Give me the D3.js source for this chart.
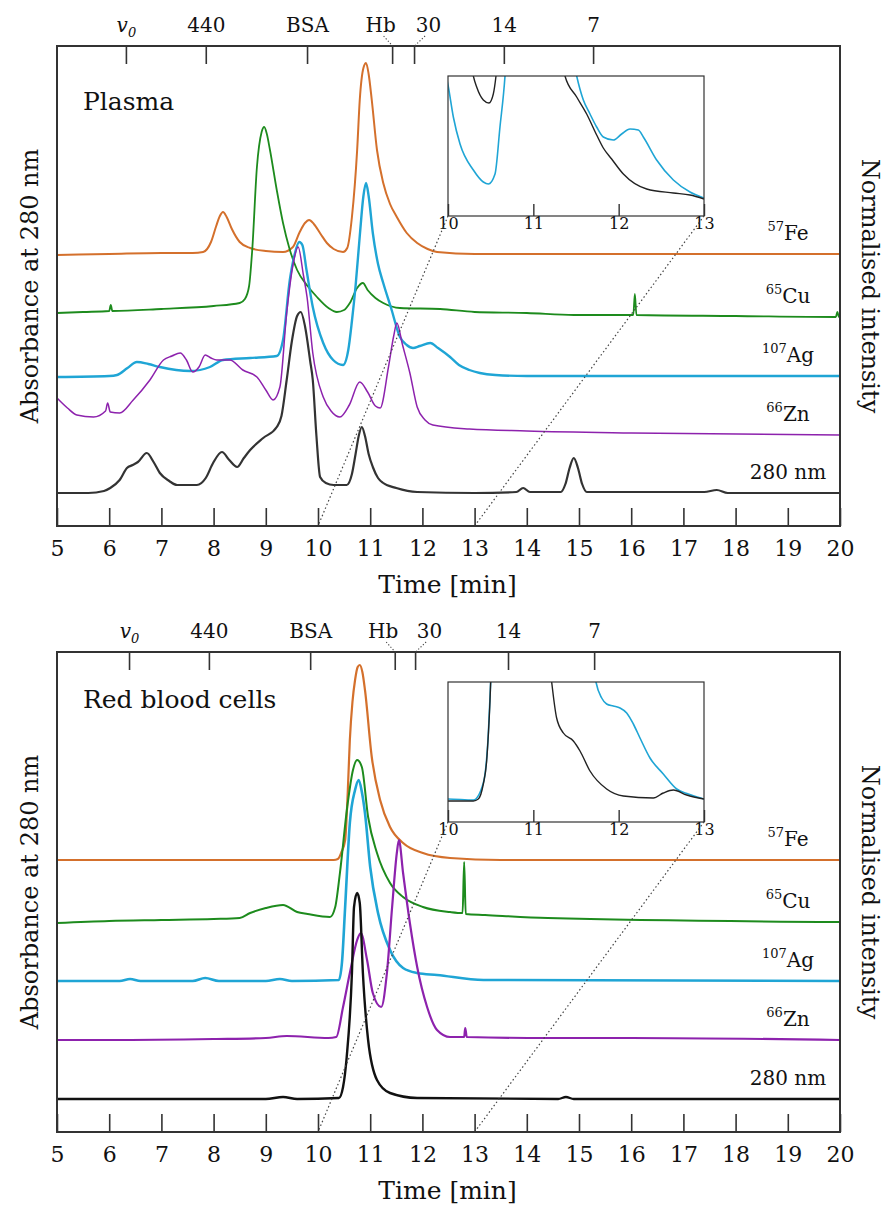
<!DOCTYPE html>
<html>
<head>
<meta charset="utf-8">
<script src="https://d3js.org/d3.v7.min.js"></script>
<style>
  body { margin: 0; background: #fff; }
  svg text { font-family: "DejaVu Serif", serif; fill: #111; }
</style>
</head>
<body>
<svg id="chart" width="888" height="1207"></svg>
<script>
// ---- data: [time (min), stacked intensity] ----
var timeTicks = d3.range(5, 21);
var insetTicks = [10, 11, 12, 13];
var markerNames = ["v0", "440", "BSA", "Hb", "30", "14", "7"];
var plasmaMarkers = [6.32, 7.85, 9.79, 11.42, 11.84, 13.56, 15.27];
var rbcMarkers = [6.38, 7.91, 9.85, 11.47, 11.86, 13.64, 15.29];
var traceNames = [["57", "Fe"], ["65", "Cu"], ["107", "Ag"], ["66", "Zn"], ["", "280 nm"]];
var traceColors = ["#d4702c", "#1d8b1d", "#1fa5d5", "#8d22ad", "#333333"];

var plasmaFe = [[5,271],[6,272],[7,273],[7.6,273],[7.8,274],[7.95,284],[8.05,300],[8.12,310],[8.18,314],[8.25,309],[8.35,297],[8.5,284],[8.7,278],[9.0,275],[9.33,274],[9.52,279],[9.65,294],[9.75,303],[9.83,306],[9.92,302],[10.05,292],[10.17,283],[10.3,277],[10.48,274],[10.56,278],[10.65,309],[10.75,376],[10.8,426],[10.87,458],[10.92,463],[10.97,452],[11.03,426],[11.13,376],[11.25,343],[11.38,322],[11.51,309],[11.7,293],[11.9,283],[12.1,277],[12.28,274],[13,272],[20,272]];
var plasmaCu = [[5,213],[5.5,214],[6.0,215],[6.03,221],[6.06,215],[7.0,217],[8.0,220],[8.5,223],[8.6,227],[8.68,240],[8.74,276],[8.83,359],[8.92,394],[8.97,399],[9.02,392],[9.08,376],[9.21,336],[9.33,303],[9.45,278],[9.6,256],[9.8,240],[9.98,229],[10.2,218],[10.36,214],[10.5,216],[10.61,223],[10.75,238],[10.86,243],[10.95,236],[11.1,228],[11.25,223],[11.57,218],[12.34,217],[13,214],[14,213],[14.9,211],[16.04,211],[16.07,232],[16.1,211],[18,210],[19.92,209],[19.95,214],[19.98,209],[20,209]];
var plasmaAg = [[5,149],[6.0,150],[6.15,151],[6.35,158],[6.53,164],[6.75,162],[6.97,159],[7.55,155],[7.93,159],[8.18,166],[8.7,168],[9.21,170],[9.33,186],[9.46,246],[9.55,271],[9.64,284],[9.7,281],[9.78,256],[9.9,219],[10.1,183],[10.29,166],[10.48,161],[10.58,176],[10.65,205],[10.72,240],[10.8,290],[10.87,330],[10.92,343],[10.97,330],[11.05,293],[11.15,262],[11.25,243],[11.4,218],[11.57,189],[11.7,181],[11.82,178],[11.95,180],[12.15,183],[12.3,178],[12.53,169],[12.7,161],[12.9,156],[13.1,153],[13.4,151],[14,150],[20,150]];
var plasmaZn = [[5,128],[5.2,118],[5.38,111],[5.7,109],[5.93,115],[5.97,123],[6.02,114],[6.2,113],[6.46,126],[6.78,146],[7.04,166],[7.2,170],[7.36,173],[7.48,166],[7.6,154],[7.72,159],[7.84,171],[7.95,168],[8.06,166],[8.31,166],[8.56,156],[8.83,149],[9.0,136],[9.14,126],[9.27,139],[9.4,213],[9.52,261],[9.62,279],[9.72,251],[9.79,229],[9.9,173],[10.1,129],[10.25,115],[10.42,109],[10.6,121],[10.8,144],[10.95,134],[11.1,120],[11.19,118],[11.35,159],[11.45,190],[11.51,203],[11.62,181],[11.76,153],[11.9,119],[12.05,106],[12.2,101],[12.9,97],[14,95],[16,93],[20,91]];
var plasma280 = [[5,33],[5.6,33],[5.9,35],[6.02,38],[6.2,46],[6.34,58],[6.45,61],[6.55,64],[6.72,73],[6.85,64],[6.97,53],[7.15,45],[7.3,41],[7.68,41],[7.85,48],[7.99,63],[8.16,74],[8.3,66],[8.45,59],[8.58,68],[8.7,76],[8.95,88],[9.21,99],[9.3,110],[9.4,146],[9.5,185],[9.6,210],[9.67,214],[9.75,200],[9.85,165],[9.9,146],[9.97,90],[10.04,49],[10.15,43],[10.3,41],[10.55,41],[10.65,52],[10.72,72],[10.78,90],[10.84,99],[10.9,90],[10.97,72],[11.05,59],[11.15,48],[11.25,43],[11.5,38],[11.9,34],[13,33],[13.8,34],[13.93,38],[14.06,34],[14.65,34],[14.74,42],[14.82,58],[14.9,68],[14.98,58],[15.06,42],[15.15,34],[17.4,34],[17.64,36],[17.85,33],[20,33]];
var plasmaInsetAg = [[9.95,150],[10,131],[10.0625,99],[10.141,72],[10.297,46],[10.414,34],[10.473,32],[10.551,42],[10.609,89],[10.668,140],[10.72,220],[10.92,700],[11.35,220],[11.508,140],[11.586,116],[11.664,102],[11.742,89],[11.82,79],[11.937,76],[12.035,82],[12.133,87],[12.23,86],[12.289,79],[12.445,56],[12.641,36],[12.836,24],[13,18]];
var plasmaInset280 = [[10.2,200],[10.297,140],[10.336,129],[10.414,116],[10.48,113],[10.531,122],[10.5625,140],[10.62,200],[10.84,700],[11.25,200],[11.371,140],[11.508,119],[11.625,102],[11.742,81],[11.82,68],[11.918,57],[12.055,42],[12.328,27],[12.641,23],[12.836,21],[13,17]];

var rbcFe = [[5,272],[10.3,272],[10.38,273],[10.45,280],[10.52,292],[10.57,340],[10.61,392],[10.66,430],[10.71,452],[10.76,465],[10.8,467],[10.85,460],[10.9,442],[11.03,375],[11.19,332],[11.38,305],[11.63,289],[12.01,279],[12.53,274],[13.5,272],[20,272]];
var rbcCu = [[5,209],[6,211],[7,212],[8,213],[8.5,214],[8.7,219],[9.0,224],[9.33,227],[9.6,220],[9.8,218],[10.23,215],[10.33,225],[10.42,259],[10.56,325],[10.67,362],[10.75,372],[10.84,365],[10.96,315],[11.13,279],[11.38,249],[11.63,235],[12.01,225],[12.53,220],[12.77,219],[12.8,270],[12.83,218],[13.2,217],[14.4,214],[20,210]];
var rbcAg = [[5,151],[6.2,151],[6.4,153],[6.6,151],[7.6,151],[7.84,154],[8.1,151],[9.0,151],[9.27,153],[9.5,151],[10.4,152],[10.46,170],[10.52,225],[10.61,309],[10.71,342],[10.78,352],[10.84,340],[10.9,319],[11.0,265],[11.15,219],[11.38,182],[11.63,164],[11.9,159],[12.28,157],[13.17,152],[20,151]];
var rbcZn = [[5,92],[6,92],[8,93],[9.0,94],[9.4,96],[10.2,94],[10.35,95],[10.48,125],[10.61,159],[10.75,192],[10.82,199],[10.94,172],[11.05,139],[11.21,125],[11.32,159],[11.42,225],[11.51,279],[11.55,292],[11.63,259],[11.76,209],[11.9,165],[12.09,125],[12.28,102],[12.53,95],[12.8,95],[12.82,104],[12.85,95],[14.4,94],[16,94],[20,92]];
var rbc280 = [[5,33],[9.0,33],[9.33,35],[9.6,33],[10.4,34],[10.48,45],[10.55,75],[10.65,159],[10.69,225],[10.75,239],[10.8,229],[10.86,159],[10.96,92],[11.13,52],[11.38,39],[11.9,34],[14.6,33],[14.75,35],[14.9,33],[20,33]];
var rbcInsetAg = [[9.95,23],[10,23],[10.297,22],[10.414,39],[10.473,89],[10.5,140],[10.55,250],[10.78,800],[11.6,250],[11.734,140],[11.801,124],[11.859,118],[11.937,116],[12.016,114],[12.094,109],[12.172,98],[12.25,84],[12.367,64],[12.523,48],[12.68,33],[12.816,28],[13,23]];
var rbcInset280 = [[9.95,21],[10,21],[10.297,21],[10.355,23],[10.414,38],[10.453,61],[10.473,88],[10.492,121],[10.5,140],[10.55,250],[10.75,800],[11.1,250],[11.215,140],[11.273,104],[11.352,89],[11.469,81],[11.547,71],[11.664,51],[11.859,33],[12.055,26],[12.406,24],[12.523,29],[12.641,32],[12.797,27],[13,23]];

var panels = [
  { title: "Plasma", top: 46, titleDy: 64, markers: plasmaMarkers,
    series: [plasmaFe, plasmaCu, plasmaAg, plasmaZn, plasma280],
    widths: [2, 1.8, 2.4, 1.5, 2.2], inset: [plasmaInsetAg, plasmaInset280], blackColor: "#333" },
  { title: "Red blood cells", top: 652, titleDy: 56, markers: rbcMarkers,
    series: [rbcFe, rbcCu, rbcAg, rbcZn, rbc280],
    widths: [2.2, 2, 2.6, 2.2, 2.4], inset: [rbcInsetAg, rbcInset280], blackColor: "#111" }
];

var svg = d3.select("#chart");
var left = 57, right = 840, plotH = 480;
var x = d3.scaleLinear().domain([5, 20]).range([left, right]);
var xi = d3.scaleLinear().domain([10, 13]).range([448, 704]);

function styleAxis(ax, size) {
  ax.attr("font-family", null);
  ax.select(".domain").remove();
  ax.selectAll("line").attr("stroke", "#333").attr("stroke-width", 1.6);
  ax.selectAll("text").attr("font-size", size).attr("fill", "#111");
}

panels.forEach(function(p, k) {
  var bottom = p.top + plotH;
  var y = d3.scaleLinear().domain([0, 480]).range([bottom, p.top]);
  var g = svg.append("g");

  var clipId = "clip" + k;
  svg.append("clipPath").attr("id", clipId).append("rect")
    .attr("x", left).attr("y", p.top).attr("width", right - left).attr("height", plotH);

  var line = d3.line().x(function(d) { return x(d[0]); }).y(function(d) { return y(d[1]); })
    .curve(d3.curveMonotoneX);

  var traces = g.append("g").attr("clip-path", "url(#" + clipId + ")");
  p.series.forEach(function(s, i) {
    traces.append("path")
      .attr("d", line(s))
      .attr("fill", "none")
      .attr("stroke", i == 4 ? p.blackColor : traceColors[i])
      .attr("stroke-width", p.widths[i])
      .attr("stroke-linejoin", "round");
  });

  // inset (zoom of 10-13 min)
  var iTop = p.top + 30, iBottom = iTop + 140;
  var yi = d3.scaleLinear().domain([0, 140]).range([iBottom, iTop]);
  var insetClip = "iclip" + k;
  svg.append("clipPath").attr("id", insetClip).append("rect")
    .attr("x", xi(10)).attr("y", iTop).attr("width", xi(13) - xi(10)).attr("height", 140);
  var iline = d3.line().x(function(d) { return xi(d[0]); }).y(function(d) { return yi(d[1]); })
    .curve(d3.curveMonotoneX);
  var ig = g.append("g").attr("clip-path", "url(#" + insetClip + ")");
  ig.append("path").attr("d", iline(p.inset[0])).attr("fill", "none")
    .attr("stroke", traceColors[2]).attr("stroke-width", 1.6);
  ig.append("path").attr("d", iline(p.inset[1])).attr("fill", "none")
    .attr("stroke", "#222").attr("stroke-width", 1.4);
  g.append("rect").attr("x", xi(10)).attr("y", iTop)
    .attr("width", xi(13) - xi(10)).attr("height", 140)
    .attr("fill", "none").attr("stroke", "#333").attr("stroke-width", 1.2);
  var iax = g.append("g").attr("transform", "translate(0," + iBottom + ")")
    .call(d3.axisBottom(xi).tickValues(insetTicks).tickFormat(d3.format("d"))
      .tickSize(-12).tickSizeOuter(0).tickPadding(2));
  styleAxis(iax, 16);
  iax.selectAll("line").attr("stroke-width", 1.4);

  // dotted connectors from inset to main axis
  [10, 13].forEach(function(t) {
    g.append("line")
      .attr("x1", xi(t)).attr("y1", iBottom)
      .attr("x2", x(t)).attr("y2", bottom)
      .attr("stroke", "#444").attr("stroke-width", 1.2)
      .attr("stroke-dasharray", "1.5,2.5");
  });

  // frame
  g.append("rect").attr("x", left).attr("y", p.top).attr("width", right - left).attr("height", plotH)
    .attr("fill", "none").attr("stroke", "#333").attr("stroke-width", 2);

  // time axis
  var xax = g.append("g").attr("transform", "translate(0," + bottom + ")")
    .call(d3.axisBottom(x).tickValues(timeTicks).tickFormat(d3.format("d"))
      .tickSize(-18).tickSizeOuter(0).tickPadding(14));
  styleAxis(xax, 22);

  // molecular weight markers
  var max = g.append("g").attr("transform", "translate(0," + p.top + ")")
    .call(d3.axisTop(x).tickValues(p.markers).tickSize(-18).tickSizeOuter(0).tickPadding(14)
      .tickFormat(function(d, i) { return markerNames[i]; }));
  styleAxis(max, 20);
  max.selectAll(".tick").each(function(d, i) {
    var t = d3.select(this).select("text");
    if (i == 0) {
      t.text(null);
      t.append("tspan").attr("font-style", "italic").text("v");
      t.append("tspan").attr("font-style", "italic").attr("font-size", 13).attr("dy", 5).text("0");
    }
    if (i == 3 || i == 4) {
      var shift = i == 3 ? -12 : 14;
      t.attr("x", shift);
      d3.select(this).append("line")
        .attr("x1", shift * 0.75).attr("y1", -10).attr("x2", 0).attr("y2", 0)
        .attr("stroke", "#444").attr("stroke-width", 1.1).attr("stroke-dasharray", "1.2,2");
    }
  });

  // panel title
  g.append("text").attr("x", 83).attr("y", p.top + p.titleDy)
    .attr("font-size", 25).text(p.title);

  // trace labels
  p.series.forEach(function(s, i) {
    var t = g.append("text").attr("x", 788).attr("y", y(s[s.length - 1][1]) - 14)
      .attr("text-anchor", "middle").attr("font-size", 20);
    if (traceNames[i][0] != "") {
      t.append("tspan").attr("font-size", 13).attr("dy", -9).text(traceNames[i][0]);
      t.append("tspan").attr("dy", 9).text(traceNames[i][1]);
    } else {
      t.text(traceNames[i][1]);
    }
  });

  // axis titles
  g.append("text").attr("x", (left + right) / 2 - 1).attr("y", bottom + 67)
    .attr("text-anchor", "middle").attr("font-size", 25).text("Time [min]");
  g.append("text").attr("transform", "translate(38," + (p.top + 240) + ") rotate(-90)")
    .attr("text-anchor", "middle").attr("font-size", 24).text("Absorbance at 280 nm");
  g.append("text").attr("transform", "translate(862," + (p.top + 240) + ") rotate(90)")
    .attr("text-anchor", "middle").attr("font-size", 24).text("Normalised intensity");
});
</script>
</body>
</html>
